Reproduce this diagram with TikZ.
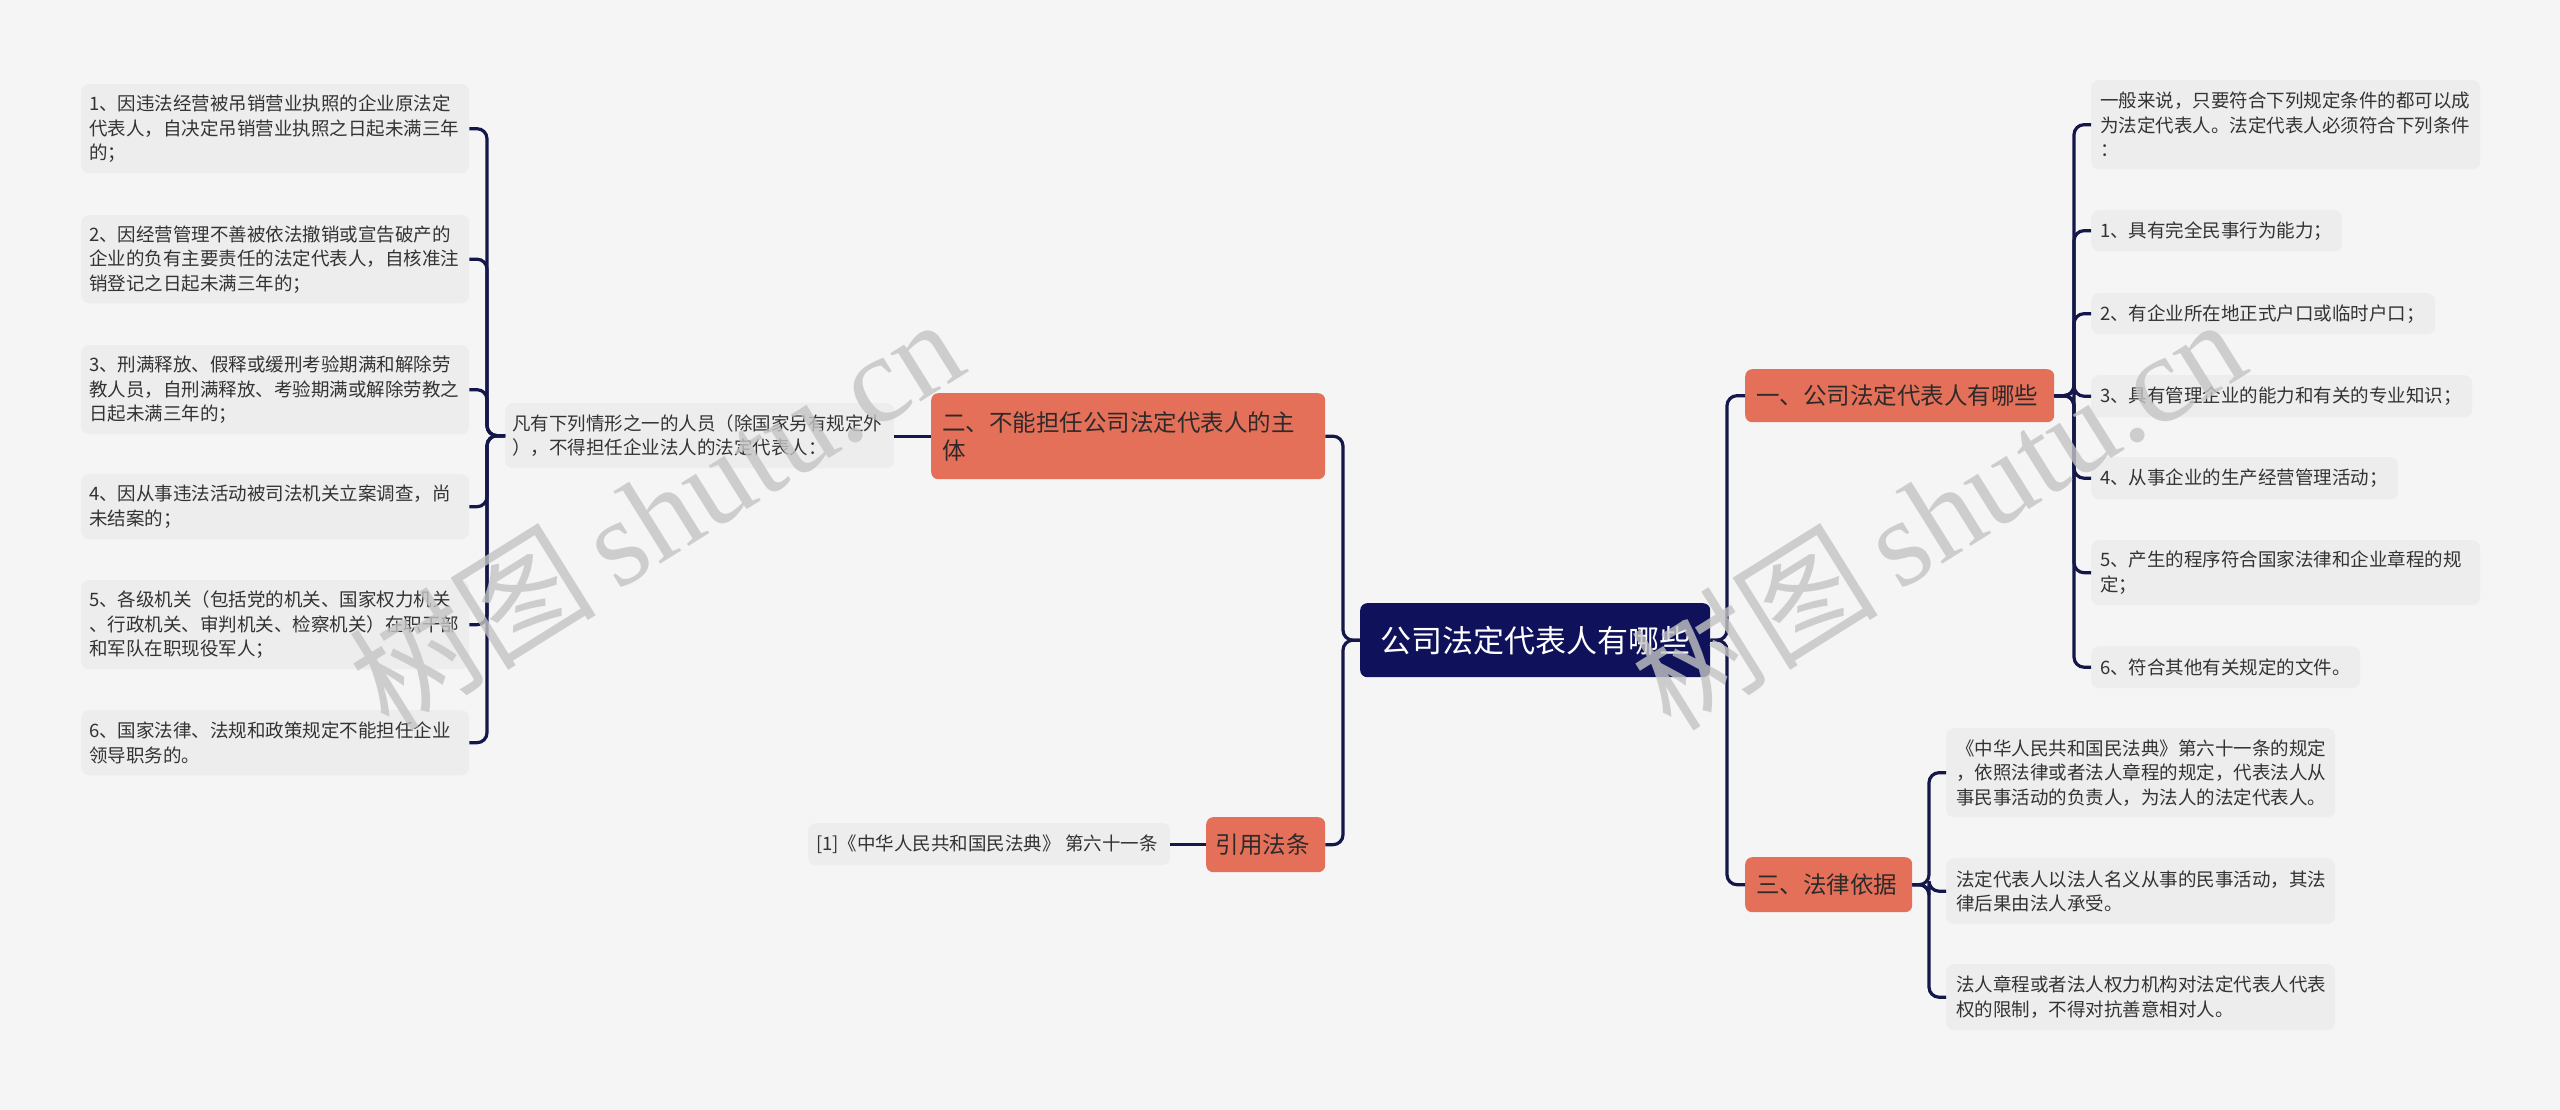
\documentclass[tikz,border=0pt]{standalone}
\usepackage{fontspec}
\setmainfont{Noto Sans CJK SC}
\newfontfamily\wmcjk{Noto Sans CJK SC}
\newfontfamily\wmlat{Liberation Serif}
\definecolor{bgC}{HTML}{F5F5F5}
\definecolor{leafC}{HTML}{EDEDED}
\definecolor{brC}{HTML}{E4705A}
\definecolor{rootC}{HTML}{0F125A}
\definecolor{lineC}{HTML}{14174A}
\definecolor{txtC}{HTML}{333333}
\definecolor{brTxt}{HTML}{2E2A2A}
\definecolor{wmC}{HTML}{C4C4C4}
\begin{document}
\begin{tikzpicture}[x=1pt,y=-1pt,
  conn/.style={draw=lineC, line width=3.2pt, rounded corners=10pt},
  leaf/.style={fill=leafC, rounded corners=8pt, anchor=north west, inner xsep=9pt, inner ysep=0pt, align=flush left, font=\fontsize{18.5}{24.5}\selectfont, text=txtC},
  branch/.style={fill=brC, rounded corners=7pt, anchor=north west, inner xsep=11pt, inner ysep=0pt, align=flush left, font=\fontsize{23.5}{28}\selectfont, text=brTxt},
  rootbox/.style={fill=rootC, rounded corners=7pt, anchor=north west, inner sep=0pt, align=center, font=\fontsize{31}{36}\selectfont, text=white},
  wm/.style={text=wmC, opacity=0.8, rotate=32, inner sep=0pt}
]
\path[fill=bgC] (0,0) rectangle (2560,1110);

% root
\node[rootbox, minimum width=350pt, minimum height=74pt] (root) at (1360,603) {公司法定代表人有哪些};

% branches
\node[branch, minimum width=309pt, minimum height=53pt, text width=287pt] (b1) at (1745,369) {一、公司法定代表人有哪些};
\node[branch, minimum width=394pt, minimum height=86pt, text width=372pt] (b2) at (931,393) {二、不能担任公司法定代表人的主\\体};
\node[branch, minimum width=167pt, minimum height=55pt, text width=145pt] (b3) at (1745,857) {三、法律依据};
\node[branch, minimum width=119pt, minimum height=55pt, text width=100pt, inner xsep=9pt] (b4) at (1206,817) {引用法条};

% right leaves of b1
\node[leaf, minimum width=389pt, minimum height=89pt, text width=371pt] (r0) at (2091,80) {一般来说，只要符合下列规定条件的都可以成\\为法定代表人。法定代表人必须符合下列条件\\：};
\node[leaf, minimum width=251pt, minimum height=41pt, text width=233pt] (r1) at (2091,210) {1、具有完全民事行为能力；};
\node[leaf, minimum width=344pt, minimum height=41pt, text width=326pt] (r2) at (2091,293) {2、有企业所在地正式户口或临时户口；};
\node[leaf, minimum width=381pt, minimum height=42pt, text width=363pt] (r3) at (2091,375) {3、具有管理企业的能力和有关的专业知识；};
\node[leaf, minimum width=307pt, minimum height=42pt, text width=289pt] (r4) at (2091,457) {4、从事企业的生产经营管理活动；};
\node[leaf, minimum width=389pt, minimum height=65pt, text width=371pt] (r5) at (2091,540) {5、产生的程序符合国家法律和企业章程的规\\定；};
\node[leaf, minimum width=269pt, minimum height=42pt, text width=251pt] (r6) at (2091,646) {6、符合其他有关规定的文件。};

% leaves of b3
\node[leaf, minimum width=389pt, minimum height=89pt, text width=369pt, inner xsep=10pt] (s0) at (1946,728) {《中华人民共和国民法典》第六十一条的规定\\，依照法律或者法人章程的规定，代表法人从\\事民事活动的负责人，为法人的法定代表人。};
\node[leaf, minimum width=389pt, minimum height=66pt, text width=369pt, inner xsep=10pt] (s1) at (1946,858) {法定代表人以法人名义从事的民事活动，其法\\律后果由法人承受。};
\node[leaf, minimum width=389pt, minimum height=66pt, text width=369pt, inner xsep=10pt] (s2) at (1946,964) {法人章程或者法人权力机构对法定代表人代表\\权的限制，不得对抗善意相对人。};

% middle node of b2
\node[leaf, minimum width=389pt, minimum height=65pt, text width=375pt, inner xsep=7pt] (mid) at (505,403) {凡有下列情形之一的人员（除国家另有规定外\\），不得担任企业法人的法定代表人：};

% left leaves
\node[leaf, minimum width=388pt, minimum height=89pt, text width=372pt, inner xsep=8pt] (l1) at (81,84) {1、因违法经营被吊销营业执照的企业原法定\\代表人，自决定吊销营业执照之日起未满三年\\的；};
\node[leaf, minimum width=388pt, minimum height=88pt, text width=372pt, inner xsep=8pt] (l2) at (81,215) {2、因经营管理不善被依法撤销或宣告破产的\\企业的负有主要责任的法定代表人，自核准注\\销登记之日起未满三年的；};
\node[leaf, minimum width=388pt, minimum height=89pt, text width=372pt, inner xsep=8pt] (l3) at (81,345) {3、刑满释放、假释或缓刑考验期满和解除劳\\教人员，自刑满释放、考验期满或解除劳教之\\日起未满三年的；};
\node[leaf, minimum width=388pt, minimum height=65pt, text width=372pt, inner xsep=8pt] (l4) at (81,474) {4、因从事违法活动被司法机关立案调查，尚\\未结案的；};
\node[leaf, minimum width=388pt, minimum height=89pt, text width=372pt, inner xsep=8pt] (l5) at (81,580) {5、各级机关（包括党的机关、国家权力机关\\、行政机关、审判机关、检察机关）在职干部\\和军队在职现役军人；};
\node[leaf, minimum width=388pt, minimum height=65pt, text width=372pt, inner xsep=8pt] (l6) at (81,710) {6、国家法律、法规和政策规定不能担任企业\\领导职务的。};

% citation leaf
\node[leaf, minimum width=362pt, minimum height=42pt, text width=346pt, inner xsep=8pt] (cite) at (808,823) {[1]《中华人民共和国民法典》 第六十一条};

% bus coordinates
\coordinate (rbus) at (1727,0);
\coordinate (lbus) at (1343,0);
\coordinate (bus1) at (2074,0);
\coordinate (bus3) at (1929,0);
\coordinate (bus2) at (487,0);

% connectors
\draw[conn] (root.east) -- (root.east -| rbus) |- (b1.west);
\draw[conn] (root.east) -- (root.east -| rbus) |- (b3.west);
\draw[conn] (root.west) -- (root.west -| lbus) |- (b2.east);
\draw[conn] (root.west) -- (root.west -| lbus) |- (b4.east);

\foreach \n in {r0,r1,r2,r3,r4,r5,r6}{
  \draw[conn] (b1.east) -- (b1.east -| bus1) |- (\n.west);
}
\foreach \n in {s0,s1,s2}{
  \draw[conn] (b3.east) -- (b3.east -| bus3) |- (\n.west);
}
\draw[conn] (b2.west) -- (b2.west -| mid.east);
\foreach \n in {l1,l2,l3,l4,l5,l6}{
  \draw[conn] (mid.west) -- (mid.west -| bus2) |- (\n.east);
}
\draw[conn] (b4.west) -- (b4.west -| cite.east);

% watermarks
\node[wm] (wm1) at (655,512) {\fontsize{124}{124}\selectfont\wmcjk 树图\,\wmlat shutu.cn};
\node[wm] (wm2) at (1937,512) {\fontsize{124}{124}\selectfont\wmcjk 树图\,\wmlat shutu.cn};
\end{tikzpicture}
\end{document}
